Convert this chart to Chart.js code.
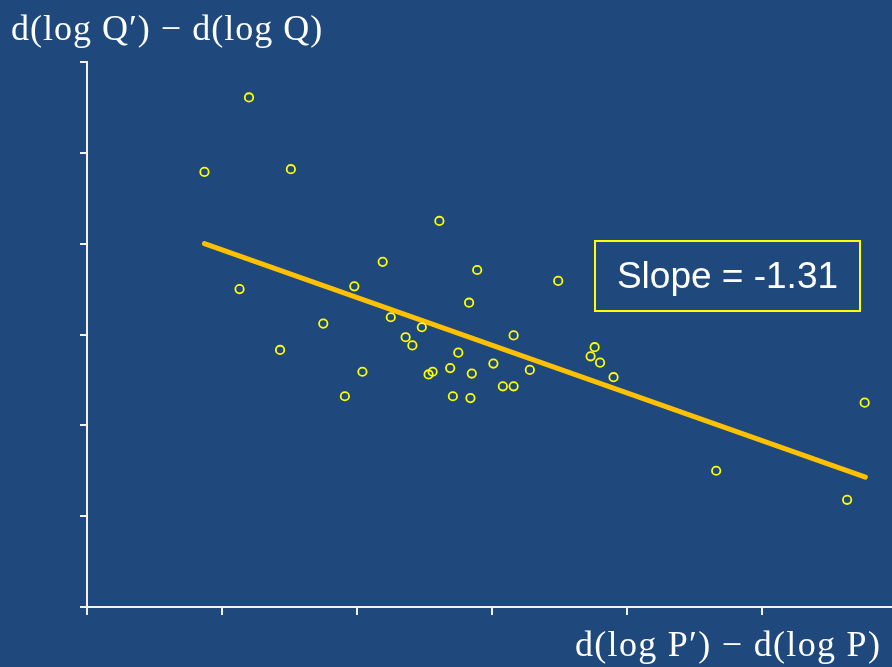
<!DOCTYPE html>
<html>
<head>
<meta charset="utf-8">
<script src="https://cdn.jsdelivr.net/npm/chart.js@4"></script>
<style>
  html, body { margin: 0; padding: 0; background: #1f497d; overflow: hidden; }
  #wrap { position: relative; width: 892px; height: 667px; overflow: hidden; }
  canvas { position: absolute; left: 0; top: 0; }
  .axis-title { position: absolute; color: #ffffff; font-family: 'Liberation Serif', 'DejaVu Serif', serif; font-size: 36px; letter-spacing: 1px; white-space: nowrap; line-height: 1; }
  #yTitle { left: 11px; top: 10px; }
  #xTitle { left: 575px; top: 626px; letter-spacing: 1.3px; }
  #slopeBox { position: absolute; left: 594px; top: 240px; width: 263px; height: 68px; border: 2px solid #ffff00; box-sizing: content-box;
    color: #ffffff; font-family: 'Liberation Sans', Arial, sans-serif; font-size: 37px; display: flex; align-items: center; justify-content: center; }
</style>
</head>
<body>
<div id="wrap">
  <canvas id="chart" width="897" height="667"></canvas>
  <div class="axis-title" id="yTitle">d(log Q′) − d(log Q)</div>
  <div class="axis-title" id="xTitle">d(log P′) − d(log P)</div>
  <div id="slopeBox">Slope = -1.31</div>
</div>
<script>
const pointsX = [0.87, 1.20, 1.51, 1.13, 1.43, 1.75, 1.91, 1.98, 2.04, 2.19, 2.25, 2.36, 2.41, 2.48, 2.53, 2.56, 2.61, 2.69, 2.71,
  2.75, 2.83, 2.84, 2.85, 2.89, 3.01, 3.08, 3.16, 3.16, 3.28, 3.49, 3.73, 3.76, 3.80, 3.90, 4.66, 5.63, 5.76];
const pointsY = [4.79, 5.61, 4.82, 3.50, 2.83, 3.12, 2.32, 3.53, 2.59, 3.80, 3.19, 2.97, 2.88, 3.08, 2.56, 2.59, 4.25, 2.63, 2.32,
  2.80, 3.35, 2.30, 2.57, 3.71, 2.68, 2.43, 2.99, 2.43, 2.61, 3.59, 2.76, 2.86, 2.69, 2.53, 1.50, 1.18, 2.25];

// fitted line end points
const fitX = [0.87, 5.765];
const fitY = [4.00, 1.43];

const xTicks = [0, 1, 2, 3, 4, 5];
const yTicks = [0, 1, 2, 3, 4, 5, 6];

const scatterData = pointsX.map((x, i) => ({ x: x, y: pointsY[i] }));
const fitData = fitX.map((x, i) => ({ x: x, y: fitY[i] }));

const axisColor = '#f2f2f2';

new Chart(document.getElementById('chart'), {
  type: 'scatter',
  data: {
    datasets: [
      {
        type: 'line',
        data: fitData,
        borderColor: '#ffc000',
        borderWidth: 5,
        borderCapStyle: 'round',
        pointRadius: 0,
        fill: false,
        order: 1
      },
      {
        data: scatterData,
        pointStyle: 'circle',
        pointRadius: 4.2,
        borderWidth: 1.8,
        borderColor: '#ffff00',
        backgroundColor: 'rgba(0,0,0,0)',
        order: 0
      }
    ]
  },
  options: {
    responsive: false,
    animation: false,
    layout: { padding: { left: 80, top: 62, right: 1, bottom: 52 } },
    plugins: { legend: { display: false }, tooltip: { enabled: false } },
    scales: {
      x: {
        type: 'linear',
        min: 0,
        max: 5.955,
        afterBuildTicks: (scale) => { scale.ticks = xTicks.map(v => ({ value: v })); },
        afterFit: (scale) => { scale.height = 8; },
        ticks: { display: false },
        grid: { drawOnChartArea: false, drawTicks: true, tickLength: 8, color: axisColor, lineWidth: 2 },
        border: { color: axisColor, width: 2 }
      },
      y: {
        type: 'linear',
        min: 0,
        max: 6,
        afterBuildTicks: (scale) => { scale.ticks = yTicks.map(v => ({ value: v })); },
        afterFit: (scale) => { scale.width = 7; },
        ticks: { display: false },
        grid: { drawOnChartArea: false, drawTicks: true, tickLength: 7, color: axisColor, lineWidth: 2 },
        border: { color: axisColor, width: 2 }
      }
    }
  }
});
</script>
</body>
</html>
